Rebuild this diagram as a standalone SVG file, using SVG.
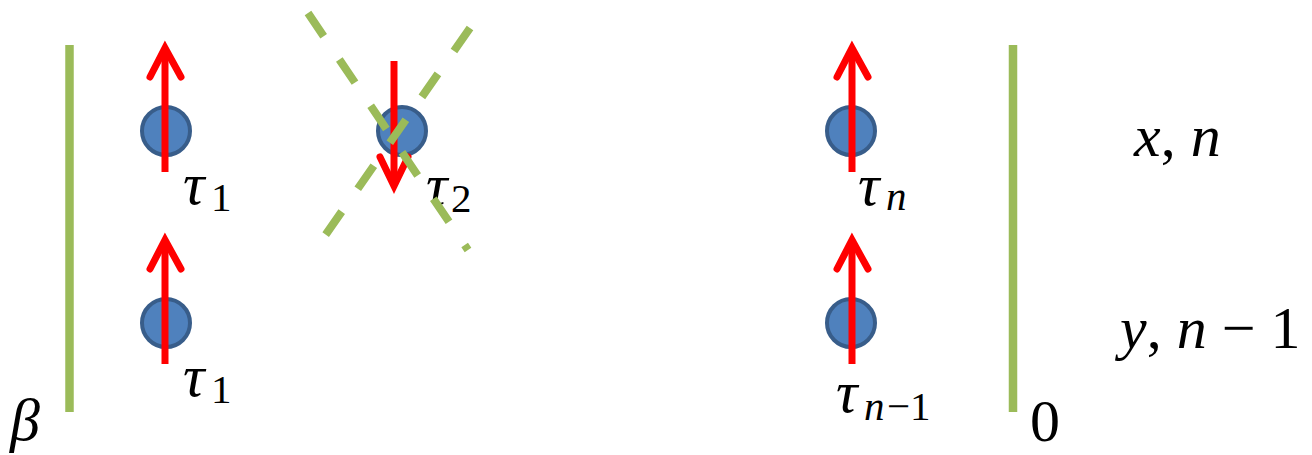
<svg xmlns="http://www.w3.org/2000/svg" width="1312" height="455" viewBox="0 0 1312 455">
<style>
.bar{stroke:#9bbb59;stroke-width:8.5;fill:none}
.dash{stroke:#9bbb59;stroke-width:8;fill:none;stroke-dasharray:28 28}
.dot{fill:#4f81bd;stroke:#385d8a;stroke-width:4}
.shaft{stroke:#ff0000;stroke-width:7;fill:none;stroke-linecap:butt}
.head{stroke:#ff0000;stroke-width:7;fill:none;stroke-linecap:round;stroke-linejoin:miter}
.m{font-family:"Liberation Serif","DejaVu Serif",serif;font-size:60px;fill:#000}
.i{font-style:italic}
.s{font-size:41px}
</style>
<rect width="1312" height="455" fill="#fff"/>
<g id="boundary-beta"><line class="bar" x1="69.5" y1="45" x2="69.5" y2="412"/></g>
<g id="boundary-zero"><line class="bar" x1="1013" y1="45" x2="1013" y2="412"/></g>
<g id="spin-tau1-top">
<circle class="dot" cx="166" cy="131" r="24"/>
<line class="shaft" x1="165" y1="172" x2="165" y2="52"/>
<polyline class="head" points="150,77 165,48 181,77"/>
<text class="m" y="204"><tspan class="i" x="183">τ</tspan><tspan class="s" x="211" y="211">1</tspan></text>
</g>
<g id="spin-tau1-bottom">
<circle class="dot" cx="166" cy="323" r="24"/>
<line class="shaft" x1="165" y1="364" x2="165" y2="244"/>
<polyline class="head" points="150,269 165,240 181,269"/>
<text class="m" y="396"><tspan class="i" x="183">τ</tspan><tspan class="s" x="211" y="403">1</tspan></text>
</g>
<g id="spin-tau2">
<circle class="dot" cx="402" cy="131" r="24"/>
<line class="shaft" x1="394" y1="61" x2="394" y2="182"/>
<polyline class="head" points="380,157 394,186 408,157"/>
<text class="m" y="205"><tspan class="i" x="426">τ</tspan><tspan class="s" x="451" y="212">2</tspan></text>
</g>
<g id="spin-taun">
<circle class="dot" cx="851" cy="131" r="24"/>
<line class="shaft" x1="852" y1="172" x2="852" y2="52"/>
<polyline class="head" points="837,77 852,48 868,77"/>
<text class="m" y="205"><tspan class="i" x="858">τ</tspan><tspan class="s i" x="886" y="210">n</tspan></text>
</g>
<g id="spin-taun1">
<circle class="dot" cx="851" cy="323" r="24"/>
<line class="shaft" x1="852" y1="364" x2="852" y2="244"/>
<polyline class="head" points="837,269 852,240 868,269"/>
<text class="m" y="412"><tspan class="i" x="836">τ</tspan><tspan class="s i" x="864" y="420">n</tspan><tspan class="s" x="887" y="420">−1</tspan></text>
</g>
<g id="connectors">
<line class="dash" x1="308" y1="13" x2="468" y2="250"/>
<line class="dash" x1="470" y1="28" x2="324" y2="237"/>
</g>
<g id="labels">
<text class="m i" x="10" y="440">β</text>
<text class="m" x="1030" y="441">0</text>
<text class="m" x="1134" y="156"><tspan class="i">x</tspan>, <tspan class="i">n</tspan></text>
<text class="m" x="1120" y="348"><tspan class="i">y</tspan>, <tspan class="i">n</tspan> − 1</text>
</g>
</svg>
